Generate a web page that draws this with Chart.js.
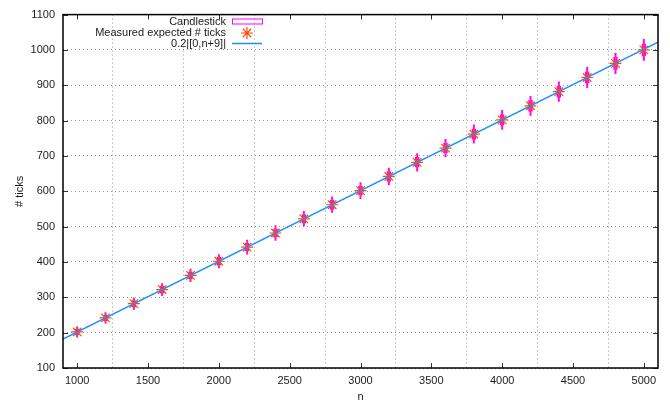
<!DOCTYPE html>
<html><head><meta charset="utf-8">
<script src="https://cdn.jsdelivr.net/npm/chart.js@4/dist/chart.umd.min.js"></script>
<style>html,body{margin:0;padding:0;background:#fff}</style>
</head><body>
<canvas id="c" width="670" height="405" style="width:670px;height:405px;display:block"></canvas>
<script>
// ---- data ----
const nValues    = [1000,1200,1400,1600,1800,2000,2200,2400,2600,2800,3000,3200,3400,3600,3800,4000,4200,4400,4600,4800,5000];
const measured   = [202,242,282,322,362,402,442,482,522,562,602,642,682,722,762,802,842,882,922,962,1000];
const whiskerLow = [189,227,266,305,344,383,422,461,501,540,579,618,657,697,736,775,815,854,893,933,970];
const whiskerHigh= [215,257,298,339,380,421,462,503,543,584,625,666,707,747,788,829,869,910,951,991,1030];
const boxLow     = [194,234,273,312,352,391,431,470,510,549,589,628,668,708,747,787,826,866,906,945,983];
const boxHigh    = [210,250,291,332,372,413,453,494,534,575,615,656,696,736,777,817,858,898,938,979,1017];
const fitX = [900, 5100];
const fitY = [182, 1022];
const xTickValues = [1000,1500,2000,2500,3000,3500,4000,4500,5000];
const yTickValues = [100,200,300,400,500,600,700,800,900,1000,1100];
const legendLabels = ['Candlestick', 'Measured expected # ticks', '0.2|[0,n+9]|'];
const xTitle = 'n';
const yTitle = '# ticks';

const FONT = '"Liberation Sans", Arial, Helvetica, sans-serif';
const TEXT = '#1a1a1a';
const MAGENTA = '#ff00ff';
const ORANGE = '#ff4a10';
const BLUE = '#1e90ff';

const framePlugin = {
  id: 'frame',
  afterDatasetsDraw(chart) {
    const {ctx, chartArea: a, scales: {x, y}} = chart;
    ctx.save();
    ctx.strokeStyle = '#333';
    ctx.lineWidth = 1;
    const t = 5;
    ctx.beginPath();
    xTickValues.forEach(v => {
      const px = Math.round(x.getPixelForValue(v)) + 0.5;
      ctx.moveTo(px, a.bottom); ctx.lineTo(px, a.bottom - t);
      ctx.moveTo(px, a.top); ctx.lineTo(px, a.top + t);
    });
    yTickValues.forEach(v => {
      const py = Math.round(y.getPixelForValue(v)) + 0.5;
      ctx.moveTo(a.left, py); ctx.lineTo(a.left + t, py);
      ctx.moveTo(a.right, py); ctx.lineTo(a.right - t, py);
    });
    ctx.stroke();
    ctx.strokeStyle = '#000';
    ctx.lineWidth = 1.5;
    ctx.strokeRect(a.left, a.top, a.right - a.left, a.bottom - a.top);

    // legend
    const tx = 226, sx0 = 232, sx1 = 262;
    const rows = [21.5, 33, 43.5];
    ctx.font = '11px ' + FONT;
    ctx.fillStyle = TEXT;
    ctx.textAlign = 'right';
    ctx.textBaseline = 'middle';
    legendLabels.forEach((l, i) => ctx.fillText(l, tx, rows[i]));
    ctx.strokeStyle = MAGENTA; ctx.lineWidth = 1;
    ctx.strokeRect(sx0 + 0.5, rows[0] - 2.5, sx1 - sx0, 5);
    ctx.strokeStyle = ORANGE; ctx.lineWidth = 1.2;
    ctx.beginPath();
    const r = 6, cx = (sx0 + sx1) / 2, cy = rows[1];
    for (let k = 0; k < 4; k++) {
      const ang = k * Math.PI / 4;
      ctx.moveTo(cx - r * Math.cos(ang), cy - r * Math.sin(ang));
      ctx.lineTo(cx + r * Math.cos(ang), cy + r * Math.sin(ang));
    }
    ctx.stroke();
    ctx.strokeStyle = BLUE; ctx.lineWidth = 1.5;
    ctx.beginPath(); ctx.moveTo(sx0, rows[2]); ctx.lineTo(sx1, rows[2]); ctx.stroke();
    ctx.restore();
  }
};

new Chart(document.getElementById('c'), {
  type: 'scatter',
  data: {
    datasets: [
      {type: 'line', label: legendLabels[2], data: fitX.map((v, i) => ({x: v, y: fitY[i]})),
       borderColor: BLUE, borderWidth: 1.5, pointRadius: 0, fill: false, order: 0},
      {type: 'scatter', label: legendLabels[1], data: nValues.map((v, i) => ({x: v, y: measured[i]})),
       pointStyle: 'star', pointRadius: 6, borderColor: ORANGE, backgroundColor: ORANGE, borderWidth: 1.2, order: 1},
      {type: 'bar', label: legendLabels[0], data: nValues.map((v, i) => ({x: v, y: [boxLow[i], boxHigh[i]]})),
       backgroundColor: 'rgba(255,0,255,0.55)', borderColor: MAGENTA, borderWidth: 1, borderSkipped: false,
       barThickness: 4, grouped: false, order: 2},
      {type: 'bar', label: 'whiskers', data: nValues.map((v, i) => ({x: v, y: [whiskerLow[i], whiskerHigh[i]]})),
       backgroundColor: MAGENTA, borderWidth: 0, barThickness: 1.3, grouped: false, order: 3}
    ]
  },
  options: {
    responsive: false,
    animation: false,
    layout: {padding: {top: 10, right: 12, left: 0, bottom: 0}},
    plugins: {legend: {display: false}, tooltip: {enabled: false}},
    scales: {
      x: {
        type: 'linear', min: 900, max: 5100, offset: false,
        afterBuildTicks: s => { s.ticks = xTickValues.map(v => ({value: v})); },
        afterFit: s => { s.height = 37; },
        grid: {color: '#999', lineWidth: 1, drawTicks: false},
        border: {display: false, dash: [1, 3]},
        ticks: {padding: 6, color: TEXT, font: {family: FONT, size: 11}, maxRotation: 0, autoSkip: false,
                callback: v => String(v)},
        title: {display: true, text: xTitle, color: TEXT, font: {family: FONT, size: 11}, padding: {top: 0, bottom: 1.5}}
      },
      y: {
        type: 'linear', min: 100, max: 1100,
        afterBuildTicks: s => { s.ticks = yTickValues.map(v => ({value: v})); },
        afterFit: s => { s.width = 63; },
        grid: {color: '#999', lineWidth: 1, drawTicks: false},
        border: {display: false, dash: [1, 3]},
        ticks: {padding: 8, color: TEXT, font: {family: FONT, size: 11}, autoSkip: false,
                callback: v => String(v)},
        title: {display: true, text: yTitle, color: TEXT, font: {family: FONT, size: 11}, padding: {top: 13, bottom: 0}}
      }
    }
  },
  plugins: [framePlugin]
});
</script>
</body></html>
